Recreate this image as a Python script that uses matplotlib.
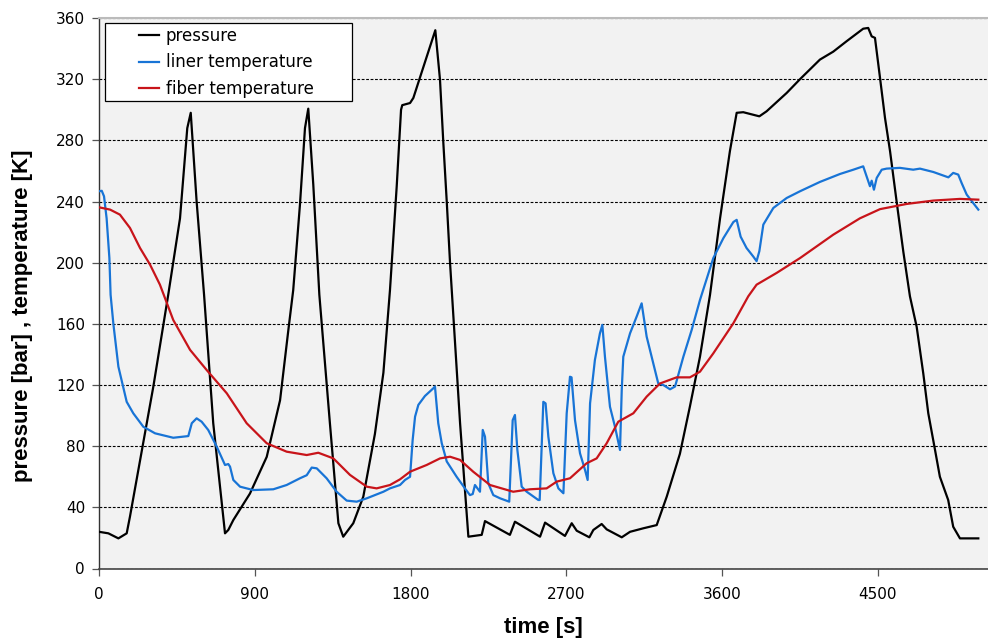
import matplotlib
matplotlib.use("Agg")
import matplotlib.pyplot as plt
from matplotlib.patches import Rectangle

# ---------------- data ----------------
pressure_t = [0, 54, 112, 160, 179, 314, 400, 468, 510, 530, 564, 607, 660, 728, 747, 776,
              872, 969, 1046, 1094, 1122, 1161, 1190, 1209, 1238, 1273, 1334, 1383, 1411,
              1469, 1527, 1594, 1643, 1681, 1720, 1745, 1752, 1797, 1816, 1943, 1970, 1989,
              2009, 2028, 2086, 2134, 2211, 2230, 2374, 2403, 2548, 2577, 2692, 2731, 2760,
              2833, 2856, 2904, 2933, 3020, 3068, 3145, 3222, 3280, 3356, 3414, 3472, 3530,
              3588, 3645, 3684, 3722, 3815, 3857, 3973, 4050, 4165, 4242, 4319, 4415, 4444,
              4464, 4483, 4512, 4541, 4570, 4608, 4647, 4685, 4724, 4762, 4791, 4830, 4858,
              4906, 4935, 4974, 5080]
pressure_v = [24, 23, 19.7, 23, 34, 119, 179, 229, 288, 298, 240, 179, 95, 23, 25.2, 31.7,
              49, 73, 110, 156, 182, 238, 288, 300.7, 251, 179, 95, 29.6, 20.8,
              29.6, 47, 88, 128, 182, 250, 300, 303, 304.4, 307.7, 352, 319.7, 279,
              240, 200, 95, 20.8, 22, 31, 22, 30.6, 20.8, 30, 21.3, 29.6, 24.7,
              20.4, 25.2, 29.1, 25.6, 20.4, 24, 26.3, 28.4, 47, 75, 106, 138.5, 179,
              229, 273, 298, 298.4, 295.7, 299, 311, 320, 332.8, 338, 344.8, 353, 353.5,
              348, 347, 321, 294.6, 273, 240, 207, 178, 158, 127.6, 101.5, 77.5, 60,
              44.8, 27.3, 19.7, 19.7]

liner_t = [0, 16, 29, 44, 60, 67, 83, 112, 160, 198, 256, 324, 429, 516, 536, 564, 593, 631,
           680, 728, 747, 757, 776, 815, 891, 1007, 1084, 1161, 1200, 1229, 1258, 1315, 1373,
           1431, 1489, 1547, 1643, 1681, 1739, 1768, 1797, 1812, 1826, 1845, 1883, 1931, 1941,
           1960, 1980, 2009, 2066, 2114, 2143, 2159, 2172, 2201, 2217, 2230, 2249, 2278, 2317,
           2370, 2390, 2403, 2417, 2442, 2471, 2538, 2546, 2567, 2580, 2596, 2625, 2654, 2683,
           2702, 2721, 2730, 2750, 2779, 2808, 2823, 2837, 2865, 2894, 2908, 2923, 2952, 2981,
           3010, 3020, 3029, 3068, 3106, 3135, 3164, 3202, 3231, 3260, 3299, 3328, 3376, 3424,
           3472, 3549, 3607, 3665, 3684, 3707, 3741, 3780, 3799, 3815, 3838, 3896, 3973, 4050,
           4165, 4281, 4358, 4415, 4444, 4454, 4464, 4477, 4493, 4522, 4550, 4627, 4704, 4743,
           4820, 4907, 4935, 4964, 4984, 5013, 5051, 5080]
liner_v = [246.7, 247, 243.4, 229, 203, 179, 160, 132, 109, 101.5, 92.7, 88.4, 85.5, 86.6, 95,
           98.2, 96, 90.6, 79.7, 67.7, 68.3, 66.6, 57.9, 53.5, 51.3, 51.8, 54.6, 59, 61, 66,
           65.5, 59, 50.2, 44.4, 43.7, 45.9, 50.2, 52.4, 54.6, 57.9, 60, 84, 99.3, 107, 112.8,
           117.8, 119, 95, 82, 70, 60, 52.4, 48, 48.7, 54.6, 50.2, 90.6, 86.2, 55.7, 48, 45.9,
           43.7, 97, 100.4, 77.5, 53.5, 50.2, 44.8, 44.8, 109, 108, 86.2, 62.3, 52.4, 49.2,
           101.5, 125.4, 125, 97, 75.3, 64.4, 57.9, 108, 136.4, 153.8, 159.3, 138.5, 105.8, 92.7,
           77.5, 116.7, 138.5, 153.8, 164.7, 173.4, 151.6, 134.2, 121, 120, 117.2, 119, 138.5, 156,
           175.6, 203, 216, 226.6, 228, 217, 209.6, 204, 201, 207.5, 224.9, 235.8, 242.3, 246.7,
           252.8, 258, 260.8, 263, 253.2, 250, 253.6, 247.7, 255.4, 260.8, 261.5, 262, 260.8, 261.5,
           259.3, 255.8, 258.7, 257.6, 252, 244.5, 239, 234.7]

fiber_t = [0, 64, 121, 179, 237, 295, 352, 429, 526, 622, 738, 853, 969, 1084, 1200, 1267, 1354,
           1450, 1547, 1604, 1681, 1739, 1797, 1893, 1970, 2028, 2086, 2162, 2259, 2393, 2490,
           2586, 2644, 2721, 2817, 2875, 2933, 3000, 3087, 3164, 3241, 3337, 3414, 3472, 3549,
           3665, 3751, 3799, 3915, 4050, 4242, 4396, 4512, 4666, 4820, 4974, 5080]
fiber_v = [236.2, 234.7, 231.4, 222.7, 209.6, 198.7, 185.6, 162.5, 143, 129.8, 114.6, 95, 81.9,
           76.4, 74.2, 75.7, 72, 61.2, 53.5, 52.4, 54.6, 58.3, 63.3, 67.7, 72, 73.1, 71, 63.3,
           54.6, 50.2, 51.8, 52.4, 56.8, 59, 68.8, 72, 81.9, 96, 101.5, 112.4, 121, 125, 125,
           128.7, 140.7, 160.4, 178, 185.6, 193.3, 203, 218.3, 229, 235, 238.4, 240.6, 241.7, 241.2]

series_labels = ["pressure", "liner temperature", "fiber temperature"]
x_ticks = [0, 900, 1800, 2700, 3600, 4500]
y_ticks = list(range(0, 361, 40))

# ---------------- figure ----------------
plt.rcParams['font.family'] = ['DejaVu Sans']
W, H = 988, 640
fig = plt.figure(figsize=(W / 100, H / 100), dpi=100)
fig.patch.set_facecolor('white')
ax = fig.add_axes([99 / W, 1 - 568.5 / H, 1 - 99 / W, (568.5 - 18) / H])
ax.set_facecolor('#f2f2f2')

lw = 1.6
l1, = ax.plot(pressure_t, pressure_v, color='#000000', lw=lw, zorder=3)
l2, = ax.plot(liner_t, liner_v, color='#1874d6', lw=lw, zorder=3)
l3, = ax.plot(fiber_t, fiber_v, color='#c8141a', lw=lw, zorder=3)

ax.set_xlim(0, 5136)
ax.set_ylim(0, 360)
ax.set_xticks(x_ticks)
ax.set_yticks(y_ticks)
ax.tick_params(axis='both', labelsize=11, length=5, width=0.9, color='#555555')
ax.tick_params(axis='y', pad=5)
ax.tick_params(axis='x', pad=8)
ax.yaxis.grid(True, color='black', linestyle=(0, (2.5, 1.5)), linewidth=0.8)
ax.set_axisbelow(True)

ax.spines['right'].set_visible(False)
ax.spines['top'].set_color('#bbbbbb')
ax.spines['top'].set_linewidth(1.5)
ax.spines['left'].set_color('#333333')
ax.spines['bottom'].set_color('#444444')
ax.spines['left'].set_linewidth(1.0)
ax.spines['bottom'].set_linewidth(1.2)

lab_font = dict(family=['Liberation Sans', 'DejaVu Sans'], fontsize=16, fontweight='bold')
ax.set_xlabel('time [s]', labelpad=11, **lab_font)
ax.set_ylabel('pressure [bar] , temperature [K]', **lab_font)
ax.yaxis.set_label_coords(-0.074, 0.46)

# legend box (Excel style)
rect = Rectangle((105 / W, 1 - 101 / H), (352 - 105) / W, (101 - 23) / H,
                 transform=fig.transFigure, facecolor='white', edgecolor='black',
                 linewidth=0.9, zorder=5)
fig.patches.append(rect)
leg = fig.legend([l1, l2, l3], series_labels, loc='upper left',
                 bbox_to_anchor=(139 / W, 1 - 27 / H), bbox_transform=fig.transFigure,
                 frameon=False, fontsize=12, borderpad=0, borderaxespad=0,
                 handlelength=1.2, handletextpad=0.4, labelspacing=0.5)
leg.set_zorder(6)

fig.savefig('out.png', dpi=100, facecolor='white')
